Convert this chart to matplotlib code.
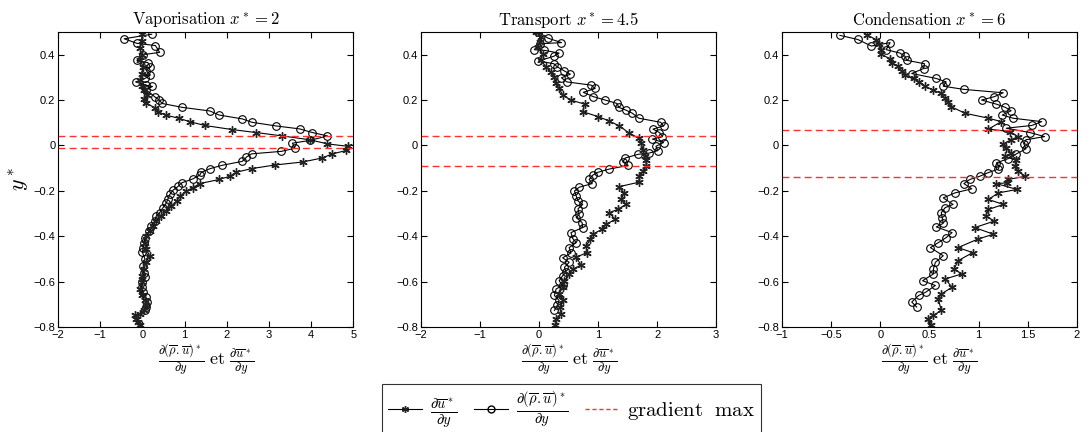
import numpy as np
import matplotlib
matplotlib.use('Agg')
import matplotlib.pyplot as plt
from matplotlib.lines import Line2D

plt.rcParams['mathtext.fontset'] = 'cm'
plt.rcParams['font.family'] = ['Liberation Sans', 'DejaVu Sans']

#_______________________________________________________________________________________________________________________
# DATA (x = gradient, y = y*)

# Vaporisation x* = 2
vap_rhou_x = [0.22, -0.43, -0.13, 0.31, 0.41, 0.02, -0.13, 0.13, 0.19, 0.09, 0.19, 0.06, -0.16, 0.09, 0.24,
              0.09, 0.29, 0.40, 0.47, 0.94, 1.60, 1.82, 2.37, 2.60, 3.17, 3.73, 4.03, 4.39, 3.97, 3.56,
              3.62, 3.30, 2.59, 2.47, 2.37, 1.88, 1.61, 1.40, 1.36, 1.20, 0.93, 0.85, 0.73, 0.65, 0.61,
              0.57, 0.49, 0.41, 0.33, 0.29, 0.21, 0.16, 0.07, 0.04, 0.02, 0.00, 0.06, 0.02, 0.03, 0.06,
              0.00, -0.02, 0.02, 0.08, 0.11, 0.09, 0.06]
vap_rhou_y = [0.49, 0.47, 0.45, 0.44, 0.41, 0.40, 0.375, 0.365, 0.345, 0.33, 0.31, 0.295, 0.28, 0.265, 0.26,
              0.245, 0.215, 0.20, 0.185, 0.168, 0.152, 0.134, 0.117, 0.102, 0.086, 0.073, 0.057, 0.042, 0.022, 0.01,
              -0.012, -0.026, -0.037, -0.051, -0.07, -0.088, -0.102, -0.118, -0.131, -0.147, -0.165, -0.18, -0.197, -0.216, -0.234,
              -0.253, -0.274, -0.296, -0.311, -0.333, -0.355, -0.377, -0.406, -0.428, -0.45, -0.47, -0.50, -0.53, -0.56, -0.58,
              -0.60, -0.625, -0.647, -0.668, -0.69, -0.712, -0.727]
vap_u_x = [0.00, -0.02, -0.06, -0.02, -0.05, 0.02, -0.02, -0.06, 0.00, 0.04, 0.12, 0.03, 0.08, 0.29, 0.37,
           0.55, 0.86, 1.12, 1.48, 2.13, 2.69, 3.32, 3.97, 4.39, 4.88, 4.84, 4.49, 4.27, 3.80, 3.15,
           2.59, 2.23, 2.07, 1.82, 1.36, 1.19, 1.04, 0.90, 0.81, 0.69, 0.57, 0.45, 0.33, 0.25, 0.17,
           0.09, 0.06, 0.09, 0.17, 0.09, 0.03, 0.00, -0.02, -0.05, 0.00, 0.06, 0.09, 0.03, -0.06, -0.18,
           -0.14, -0.10, -0.06]
vap_u_y = [0.49, 0.46, 0.43, 0.40, 0.375, 0.346, 0.317, 0.288, 0.26, 0.244, 0.222, 0.203, 0.188, 0.166, 0.149,
           0.134, 0.12, 0.105, 0.088, 0.07, 0.057, 0.042, 0.025, 0.007, -0.004, -0.022, -0.038, -0.055, -0.073, -0.086,
           -0.102, -0.118, -0.136, -0.15, -0.168, -0.187, -0.201, -0.223, -0.245, -0.267, -0.289, -0.311, -0.333, -0.355, -0.377,
           -0.401, -0.428, -0.457, -0.486, -0.515, -0.545, -0.574, -0.603, -0.632, -0.661, -0.683, -0.705, -0.727, -0.742, -0.749,
           -0.764, -0.778, -0.793]
vap_max = [0.04, -0.01]

# Transport x* = 4.5
tra_rhou_x = [-0.02, 0.15, 0.38, 0.01, -0.08, 0.09, 0.34, 0.25, -0.01, 0.25, 0.31, 0.43, 0.53, 0.38, 0.47,
              0.88, 0.95, 0.75, 0.92, 1.12, 1.32, 1.35, 1.47, 1.58, 1.69, 2.06, 2.11, 1.93, 2.04, 2.09,
              1.92, 2.11, 1.98, 2.01, 1.86, 1.68, 1.46, 1.42, 1.51, 1.19, 1.00, 0.91, 0.85, 0.90, 0.68,
              0.60, 0.63, 0.66, 0.74, 0.66, 0.68, 0.63, 0.73, 0.74, 0.54, 0.57, 0.63, 0.51, 0.54, 0.40,
              0.51, 0.43, 0.46, 0.40, 0.34, 0.40, 0.29, 0.26, 0.34, 0.31, 0.26]
tra_rhou_y = [0.50, 0.473, 0.453, 0.448, 0.422, 0.419, 0.407, 0.393, 0.372, 0.36, 0.346, 0.328, 0.314, 0.298, 0.28,
              0.266, 0.251, 0.234, 0.215, 0.20, 0.185, 0.168, 0.156, 0.142, 0.12, 0.102, 0.086, 0.072, 0.057, 0.039,
              0.028, 0.013, -0.004, -0.023, -0.034, -0.039, -0.055, -0.073, -0.088, -0.104, -0.118, -0.131, -0.15, -0.168, -0.184,
              -0.201, -0.223, -0.245, -0.26, -0.279, -0.304, -0.318, -0.34, -0.362, -0.384, -0.41, -0.428, -0.45, -0.474, -0.495,
              -0.515, -0.537, -0.559, -0.574, -0.596, -0.617, -0.632, -0.661, -0.683, -0.705, -0.727]
tra_u_x = [-0.05, 0.03, 0.01, -0.02, 0.06, 0.03, 0.12, 0.20, 0.26, 0.29, 0.34, 0.40, 0.54, 0.77, 0.74,
           1.00, 1.18, 1.36, 1.53, 1.69, 1.73, 1.76, 1.79, 1.81, 1.82, 1.76, 1.70, 1.69, 1.35, 1.44,
           1.39, 1.47, 1.33, 1.19, 1.29, 1.14, 1.07, 0.91, 0.87, 0.80, 0.81, 0.63, 0.71, 0.57, 0.51,
           0.43, 0.40, 0.34, 0.40, 0.36, 0.37, 0.29, 0.27]
tra_u_y = [0.50, 0.477, 0.455, 0.434, 0.404, 0.375, 0.346, 0.324, 0.302, 0.273, 0.251, 0.222, 0.20, 0.182, 0.149,
           0.127, 0.109, 0.086, 0.054, 0.032, 0.01, -0.019, -0.048, -0.063, -0.092, -0.114, -0.136, -0.162, -0.182, -0.209,
           -0.238, -0.26, -0.282, -0.296, -0.326, -0.347, -0.369, -0.391, -0.413, -0.442, -0.472, -0.493, -0.527, -0.545, -0.566,
           -0.596, -0.625, -0.654, -0.683, -0.712, -0.742, -0.764, -0.793]
tra_max = [0.04, -0.09]

# Condensation x* = 6
con_rhou_x = [-0.41, -0.23, -0.09, 0.10, 0.06, 0.20, 0.25, 0.27, 0.45, 0.44, 0.32, 0.57, 0.67, 0.64, 0.85,
              1.25, 1.16, 1.03, 1.18, 1.27, 1.33, 1.24, 1.35, 1.64, 1.54, 1.28, 1.52, 1.67, 1.48, 1.46,
              1.48, 1.38, 1.30, 1.18, 1.21, 1.20, 1.09, 1.01, 0.91, 0.85, 0.93, 0.76, 0.64, 0.74, 0.66,
              0.62, 0.63, 0.64, 0.57, 0.73, 0.67, 0.59, 0.51, 0.64, 0.56, 0.54, 0.54, 0.43, 0.56, 0.46,
              0.39, 0.32, 0.37]
con_rhou_y = [0.485, 0.467, 0.438, 0.453, 0.422, 0.407, 0.393, 0.375, 0.36, 0.339, 0.317, 0.295, 0.28, 0.261, 0.247,
              0.232, 0.215, 0.20, 0.182, 0.168, 0.153, 0.134, 0.12, 0.105, 0.088, 0.076, 0.057, 0.039, 0.025, 0.007,
              -0.015, -0.038, -0.058, -0.077, -0.092, -0.104, -0.121, -0.136, -0.15, -0.168, -0.191, -0.209, -0.231, -0.26, -0.274,
              -0.296, -0.318, -0.343, -0.359, -0.384, -0.406, -0.428, -0.45, -0.486, -0.515, -0.545, -0.566, -0.596, -0.617, -0.647,
              -0.661, -0.69, -0.712]
con_u_x = [-0.14, -0.04, -0.01, 0.01, 0.01, 0.10, 0.12, 0.18, 0.22, 0.25, 0.34, 0.39, 0.45, 0.54, 0.62,
           0.66, 0.69, 0.72, 0.86, 1.10, 1.23, 1.10, 1.32, 1.40, 1.33, 1.25, 1.28, 1.33, 1.27, 1.38,
           1.37, 1.40, 1.47, 1.30, 1.29, 1.18, 1.39, 1.20, 1.10, 1.25, 1.10, 1.07, 1.16, 0.96, 1.15,
           0.99, 0.79, 0.94, 0.79, 0.75, 0.83, 0.66, 0.73, 0.62, 0.59, 0.62, 0.54, 0.49, 0.52]
con_u_y = [0.488, 0.466, 0.448, 0.422, 0.401, 0.382, 0.363, 0.349, 0.328, 0.309, 0.295, 0.28, 0.261, 0.244, 0.229,
           0.207, 0.193, 0.171, 0.142, 0.12, 0.105, 0.072, 0.061, 0.039, 0.025, 0.007, -0.012, -0.034, -0.048, -0.066,
           -0.092, -0.114, -0.136, -0.15, -0.165, -0.168, -0.194, -0.209, -0.238, -0.26, -0.282, -0.311, -0.333, -0.362, -0.391,
           -0.413, -0.45, -0.472, -0.508, -0.545, -0.566, -0.588, -0.625, -0.654, -0.676, -0.727, -0.749, -0.764, -0.793]
con_max = [0.07, -0.14]

titles = [r'$\mathrm{Vaporisation}\ x^* = 2$', r'$\mathrm{Transport}\ x^* = 4.5$', r'$\mathrm{Condensation}\ x^* = 6$']
xlims = [(-2, 5), (-2, 3), (-1, 2)]
xticks = [np.arange(-2, 6, 1), np.arange(-2, 4, 1), np.arange(-1, 2.5, 0.5)]
xtick_labels = [['\u22122', '\u22121', '0', '1', '2', '3', '4', '5'],
                ['\u22122', '\u22121', '0', '1', '2', '3'],
                ['\u22121', '\u22120.5', '0', '0.5', '1', '1.5', '2']]
yticks = [-0.8, -0.6, -0.4, -0.2, 0, 0.2, 0.4]
ytick_labels = ['\u22120.8', '\u22120.6', '\u22120.4', '\u22120.2', '0', '0.2', '0.4']

lbl_u = r'$\frac{\partial\overline{u}^*}{\partial y}$'
lbl_rhou = r'$\frac{\partial(\overline{\rho}.\overline{u})^*}{\partial y}$'
xlab = r'$\frac{\partial(\overline{\rho}.\overline{u})^*}{\partial y}\ \mathrm{et}\ \frac{\partial\overline{u}^*}{\partial y}$'

series = [(vap_u_x, vap_u_y, vap_rhou_x, vap_rhou_y, vap_max),
          (tra_u_x, tra_u_y, tra_rhou_x, tra_rhou_y, tra_max),
          (con_u_x, con_u_y, con_rhou_x, con_rhou_y, con_max)]

star = (6, 2, 0)  # matlab style asterisk

#_______________________________________________________________________________________________________________________
# PLOT
fig = plt.figure(figsize=(10.89, 4.32), dpi=100)
lefts = [0.0533, 0.3866, 0.718]
for i in range(3):
    ax = fig.add_axes([lefts[i], 0.243, 0.271, 0.683])
    ux, uy, rx, ry, ymax = series[i]
    ax.plot(rx, ry, '-', color='black', lw=0.8, marker='o', ms=5.5, mfc='none', mec='black', mew=0.8)
    ax.plot(ux, uy, '-', color='black', lw=0.8, marker=star, ms=6, mec='#222222', mew=1.0)
    for yv in ymax:
        ax.axhline(yv, color='#ff3030', lw=1.0, ls=(0, (5, 3)))
    ax.set_xlim(xlims[i])
    ax.set_ylim(-0.8, 0.5)
    ax.set_xticks(xticks[i])
    ax.set_xticklabels(xtick_labels[i])
    ax.set_yticks(yticks)
    ax.set_yticklabels(ytick_labels)
    ax.tick_params(direction='in', top=True, right=True, labelsize=8, length=4, pad=2)
    for s in ax.spines.values():
        s.set_linewidth(0.8)
    ax.set_title(titles[i], fontsize=12, pad=5)
    ax.set_xlabel(xlab, fontsize=13, labelpad=2)
    if i == 0:
        ax.set_ylabel(r'$y^*$', fontsize=16, labelpad=2)

handles = [Line2D([], [], color='black', lw=0.8, marker=star, ms=5, mec='#222222', mew=1.0),
           Line2D([], [], color='black', lw=0.8, marker='o', ms=5, mfc='none', mec='black'),
           Line2D([], [], color='#ff3030', lw=1.0, ls=(0, (3, 2)))]
leg = fig.legend(handles, [lbl_u, lbl_rhou, r'$\mathrm{gradient\ \ max}$'], loc='lower center',
                 bbox_to_anchor=(0.525, -0.035), ncol=3, fontsize=15, frameon=True, fancybox=False,
                 edgecolor='black', handlelength=1.6, handletextpad=0.4, columnspacing=0.8, borderpad=0.3)
leg.get_frame().set_linewidth(0.8)

plt.savefig('out.png', dpi=100)
